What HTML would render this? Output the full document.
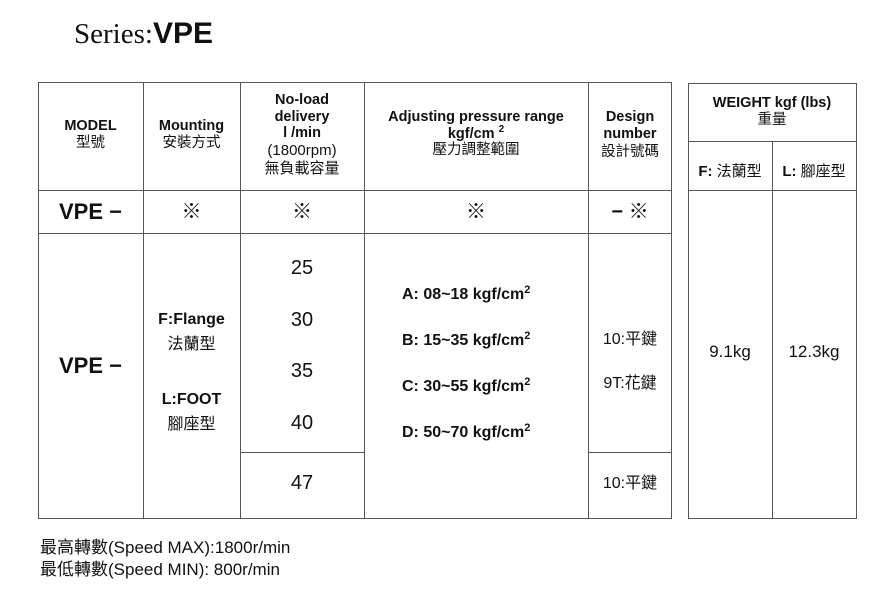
<!DOCTYPE html>
<html><head><meta charset="utf-8"><style>
body{margin:0;width:893px;height:608px;background:#fff;position:relative;overflow:hidden;font-family:"Liberation Sans","Noto Sans CJK TC",sans-serif;color:#111}
.l{position:absolute;background:#555}
.t{position:absolute;text-align:center;line-height:1.2}
.h{font-size:14.5px;font-weight:bold}
.c{font-size:14.5px}
.big{font-size:20px}
sup{line-height:0;font-size:11px;vertical-align:6px}
</style></head><body>
<div class="t" style="left:74px;top:16px;font-family:'Liberation Serif',serif;font-size:29px;text-align:left">Series:<b style="font-family:'Liberation Sans',sans-serif;font-size:30px">VPE</b></div>

<div class="l" style="left:38px;top:82px;width:634px;height:1px"></div>
<div class="l" style="left:38px;top:190px;width:634px;height:1px"></div>
<div class="l" style="left:38px;top:233px;width:634px;height:1px"></div>
<div class="l" style="left:38px;top:518px;width:634px;height:1px"></div>
<div class="l" style="left:240px;top:452px;width:124px;height:1px"></div>
<div class="l" style="left:588px;top:452px;width:84px;height:1px"></div>
<div class="l" style="left:38px;top:82px;width:1px;height:437px"></div>
<div class="l" style="left:143px;top:82px;width:1px;height:437px"></div>
<div class="l" style="left:240px;top:82px;width:1px;height:437px"></div>
<div class="l" style="left:364px;top:82px;width:1px;height:437px"></div>
<div class="l" style="left:588px;top:82px;width:1px;height:437px"></div>
<div class="l" style="left:671px;top:82px;width:1px;height:437px"></div>

<div class="l" style="left:688px;top:83px;width:168px;height:1px"></div>
<div class="l" style="left:688px;top:141px;width:168px;height:1px"></div>
<div class="l" style="left:688px;top:190px;width:168px;height:1px"></div>
<div class="l" style="left:688px;top:518px;width:168px;height:1px"></div>
<div class="l" style="left:688px;top:83px;width:1px;height:436px"></div>
<div class="l" style="left:856px;top:83px;width:1px;height:436px"></div>
<div class="l" style="left:772px;top:141px;width:1px;height:378px"></div>

<div class="t" style="left:38px;width:105px;top:118px"><div class="h">MODEL</div><div class="c">型號</div></div>
<div class="t" style="left:143px;width:97px;top:118px"><div class="h">Mounting</div><div class="c">安裝方式</div></div>
<div class="t" style="left:240px;width:124px;top:92px"><div class="h" style="line-height:1.15">No-load<br>delivery<br>l /min</div><div class="c" style="font-size:15px">(1800rpm)<br>無負載容量</div></div>
<div class="t" style="left:364px;width:224px;top:109px"><div class="h" style="line-height:1.15">Adjusting pressure range<br>kgf/cm <sup style="font-size:10px">2</sup></div><div class="c">壓力調整範圍</div></div>
<div class="t" style="left:588px;width:84px;top:109px"><div class="h" style="line-height:1.15">Design<br>number</div><div class="c" style="margin-top:2px">設計號碼</div></div>
<div class="t" style="left:688px;width:168px;top:95px"><div class="h">WEIGHT kgf (lbs)</div><div class="c">重量</div></div>
<div class="t c" style="left:688px;width:84px;top:163px;font-size:15px"><b>F:</b> 法蘭型</div>
<div class="t c" style="left:772px;width:84px;top:163px;font-size:15px"><b>L:</b> 腳座型</div>

<div class="t" style="left:38px;width:105px;top:199px;font-size:22px;font-weight:bold">VPE −</div>
<div class="t big" style="left:143px;width:97px;top:200px">※</div>
<div class="t big" style="left:240px;width:124px;top:200px">※</div>
<div class="t big" style="left:364px;width:224px;top:200px">※</div>
<div class="t big" style="left:588px;width:84px;top:200px"><b>−</b> ※</div>

<div class="t" style="left:38px;width:105px;top:353px;font-size:22px;font-weight:bold">VPE −</div>
<div class="t" style="left:143px;width:97px;top:307px;font-size:16px;line-height:25px"><b>F:Flange</b><br>法蘭型</div>
<div class="t" style="left:143px;width:97px;top:387px;font-size:16px;line-height:25px"><b>L:FOOT</b><br>腳座型</div>
<div class="t" style="left:240px;width:124px;top:256px;font-size:20px">25</div>
<div class="t" style="left:240px;width:124px;top:308px;font-size:20px">30</div>
<div class="t" style="left:240px;width:124px;top:359px;font-size:20px">35</div>
<div class="t" style="left:240px;width:124px;top:411px;font-size:20px">40</div>
<div class="t" style="left:240px;width:124px;top:471px;font-size:20px">47</div>
<div class="t" style="left:364px;width:224px;top:272px;font-size:16px;font-weight:bold;line-height:46px;text-align:left;padding-left:38px">A: 08~18 kgf/cm<sup>2</sup><br>B: 15~35 kgf/cm<sup>2</sup><br>C: 30~55 kgf/cm<sup>2</sup><br>D: 50~70 kgf/cm<sup>2</sup></div>
<div class="t" style="left:588px;width:84px;top:330px;font-size:16px">10:平鍵</div>
<div class="t" style="left:588px;width:84px;top:374px;font-size:16px">9T:花鍵</div>
<div class="t" style="left:588px;width:84px;top:474px;font-size:16px">10:平鍵</div>
<div class="t" style="left:688px;width:84px;top:342px;font-size:17px">9.1kg</div>
<div class="t" style="left:772px;width:84px;top:342px;font-size:17px">12.3kg</div>

<div class="t" style="left:40px;top:537px;font-size:17px;text-align:left;line-height:22px">最高轉數(Speed MAX):1800r/min<br>最低轉數(Speed MIN): 800r/min</div>
</body></html>
